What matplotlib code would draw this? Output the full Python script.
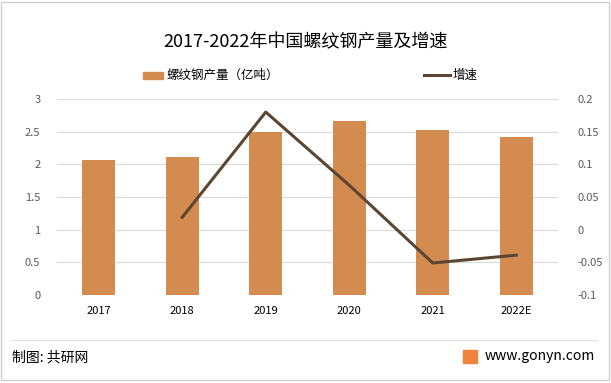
import matplotlib
matplotlib.use('Agg')
import matplotlib.pyplot as plt
from matplotlib.patches import Rectangle
from matplotlib.lines import Line2D

plt.rcParams['font.family'] = ['Noto Sans CJK SC', 'DejaVu Sans']

# 数据
years = ['2017', '2018', '2019', '2020', '2021', '2022E']
output = [2.07, 2.11, 2.49, 2.66, 2.52, 2.42]          # 螺纹钢产量（亿吨）
growth = [None, 0.019, 0.18, 0.068, -0.051, -0.039]    # 增速
left_ticks = [0, 0.5, 1, 1.5, 2, 2.5, 3]
right_ticks = [-0.1, -0.05, 0, 0.05, 0.1, 0.15, 0.2]

bar_color = '#D38B4F'
line_color = '#5C4633'
tick_color = '#595959'

fig = plt.figure(figsize=(6.11, 3.83), dpi=100)
W, H = 611, 383
ax = fig.add_axes([57 / W, 1 - 295 / H, (558 - 57) / W, (295 - 99) / H])

x = list(range(len(years)))
ax.bar(x, output, width=0.4, color=bar_color, zorder=2)
ax.set_ylim(0, 3)
ax.set_xlim(-0.5, len(years) - 0.5)
ax.set_yticks(left_ticks)
ax.set_yticklabels(['0', '0.5', '1', '1.5', '2', '2.5', '3'])
ax.set_xticks(x)
ax.set_xticklabels(years)
ax.grid(axis='y', color='#D9D9D9', linewidth=0.8, zorder=0)
for s in ax.spines.values():
    s.set_visible(False)
ax.tick_params(length=0, labelsize=8, colors=tick_color, pad=12)
ax.tick_params(axis='x', colors='black', pad=8)

ax2 = ax.twinx()
gx = [i for i, g in zip(x, growth) if g is not None]
gy = [g for g in growth if g is not None]
ax2.plot(gx, gy, color=line_color, linewidth=2.2, zorder=3)
ax2.set_ylim(-0.1, 0.2)
ax2.set_yticks(right_ticks)
ax2.set_yticklabels(['-0.1', '-0.05', '0', '0.05', '0.1', '0.15', '0.2'])
for s in ax2.spines.values():
    s.set_visible(False)
ax2.tick_params(length=0, labelsize=8, colors=tick_color, pad=14)

# 标题
fig.text(0.5, 1 - 42 / H, '2017-2022年中国螺纹钢产量及增速', ha='center', va='center',
         fontsize=13, color='black')

# 图例
fig.patches.append(Rectangle((143 / W, 1 - 79 / H), 20 / W, 7 / H, color=bar_color,
                             transform=fig.transFigure, figure=fig))
fig.text(166 / W, 1 - 75 / H, '螺纹钢产量（亿吨）', va='center', fontsize=9)
fig.lines.append(Line2D([424 / W, 450 / W], [1 - 75 / H, 1 - 75 / H], color=line_color,
                        linewidth=2.2, transform=fig.transFigure))
fig.text(453 / W, 1 - 75 / H, '增速', va='center', fontsize=9)

# 底部
fig.lines.append(Line2D([12 / W, 597 / W], [1 - 340 / H, 1 - 340 / H], color='#E0E0E0',
                        linewidth=0.8, transform=fig.transFigure))
fig.text(12 / W, 1 - 357 / H, '制图: 共研网', va='center', fontsize=10)
fig.patches.append(Rectangle((463 / W, 1 - 363 / H), 14 / W, 13 / H, color='#F0843C',
                             transform=fig.transFigure, figure=fig))
fig.text(485 / W, 1 - 356 / H, 'www.gonyn.com', va='center', fontsize=10)

# 外框
fig.patches.append(Rectangle((1 / W, 3 / H), 1 - 3 / W, 1 - 5 / H, fill=False,
                             edgecolor='#D0D0D0', linewidth=1,
                             transform=fig.transFigure, figure=fig))

fig.savefig('out.png', dpi=100)
